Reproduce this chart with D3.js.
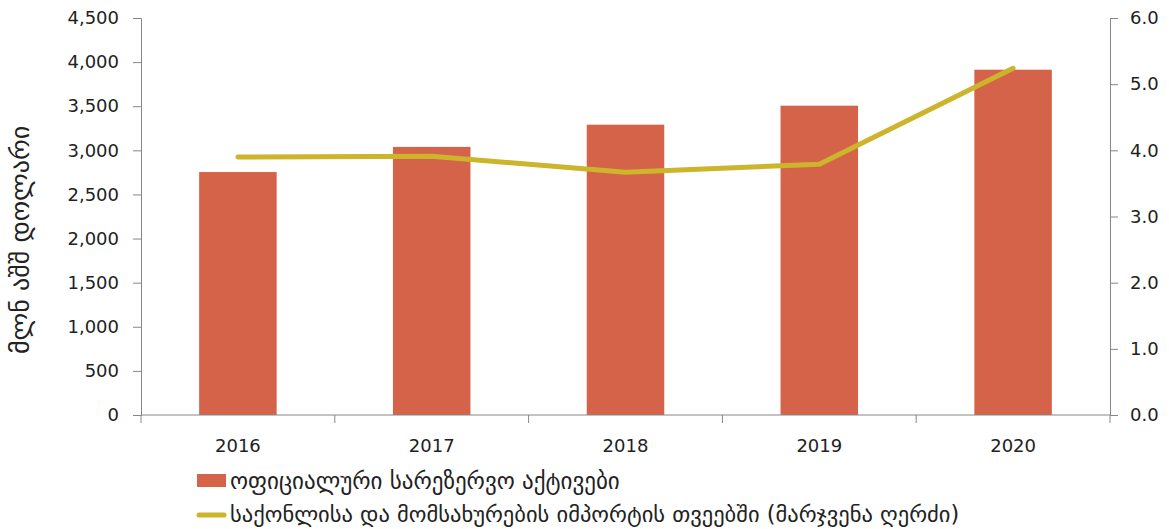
<!DOCTYPE html>
<html>
<head>
<meta charset="utf-8">
<script src="https://cdn.jsdelivr.net/npm/d3@7"></script>
<style>
  body { margin: 0; background: #fff; }
  svg { display: block; font-family: "DejaVu Sans", sans-serif; }
  .axis path, .axis line { stroke: #868686; }
  .axis text { fill: #222; font-size: 18px; font-family: "DejaVu Sans", sans-serif; }
</style>
</head>
<body>
<svg id="chart"></svg>
<script>
// data
var years = ["2016", "2017", "2018", "2019", "2020"];
var reserves = [2754, 3039, 3291, 3506, 3914];       // mln USD, left axis
var importMonths = [3.90, 3.91, 3.67, 3.79, 5.24];   // months, right axis
var leftTicks = [0, 500, 1000, 1500, 2000, 2500, 3000, 3500, 4000, 4500];
var rightTicks = [0, 1, 2, 3, 4, 5, 6];
var yTitle = "მლნ აშშ დოლარი";
var legendBar = "ოფიციალური სარეზერვო აქტივები";
var legendLine = "საქონლისა და მომსახურების იმპორტის თვეებში (მარჯვენა ღერძი)";

var width = 1169, height = 529;
var plotLeft = 141, plotRight = 1110, plotTop = 18, plotBottom = 415;
var barColor = "#D5634A", lineColor = "#CCB42B";

var svg = d3.select("#chart")
    .attr("width", width)
    .attr("height", height);

var x = d3.scaleBand()
    .domain(years)
    .range([plotLeft, plotRight])
    .paddingInner(0.6)
    .paddingOuter(0.3);

var y = d3.scaleLinear().domain([0, 4500]).range([plotBottom, plotTop]);
var y2 = d3.scaleLinear().domain([0, 6]).range([plotBottom, plotTop]);

// bars
svg.selectAll(".bar")
    .data(reserves)
    .enter().append("rect")
    .attr("class", "bar")
    .attr("x", function(d, i) { return x(years[i]); })
    .attr("width", x.bandwidth())
    .attr("y", function(d) { return y(d); })
    .attr("height", function(d) { return plotBottom - y(d); })
    .attr("fill", barColor);

// left axis
svg.append("g")
    .attr("class", "axis")
    .attr("transform", "translate(" + plotLeft + ",0)")
    .call(d3.axisLeft(y).tickValues(leftTicks).tickSize(8).tickPadding(14)
        .tickFormat(d3.format(",")));

// right axis
svg.append("g")
    .attr("class", "axis")
    .attr("transform", "translate(" + plotRight + ",0)")
    .call(d3.axisRight(y2).tickValues(rightTicks).tickSize(8).tickPadding(12)
        .tickFormat(d3.format(".1f")));

// bottom axis: labels centred, ticks on category boundaries
var xAxis = svg.append("g")
    .attr("class", "axis")
    .attr("transform", "translate(0," + plotBottom + ")")
    .call(d3.axisBottom(x).tickSize(0).tickPadding(24));
xAxis.select(".domain").attr("d", "M" + plotLeft + ",0H" + plotRight);
xAxis.selectAll(".bound")
    .data(d3.range(years.length + 1))
    .enter().append("line")
    .attr("class", "bound")
    .attr("x1", function(i) { return plotLeft + i * x.step(); })
    .attr("x2", function(i) { return plotLeft + i * x.step(); })
    .attr("y1", 0)
    .attr("y2", 8);

// line
var line = d3.line()
    .x(function(d, i) { return x(years[i]) + x.bandwidth() / 2; })
    .y(function(d) { return y2(d); });

svg.append("path")
    .datum(importMonths)
    .attr("d", line)
    .attr("fill", "none")
    .attr("stroke", lineColor)
    .attr("stroke-width", 5)
    .attr("stroke-linecap", "round")
    .attr("stroke-linejoin", "round");

// y title
svg.append("text")
    .attr("transform", "translate(29,240) rotate(-90)")
    .attr("text-anchor", "middle")
    .style("font-size", "26px")
    .attr("fill", "#222")
    .text(yTitle);

// legend
var lg = svg.append("g").attr("transform", "translate(197,0)");
lg.append("rect")
    .attr("x", 0).attr("y", 474)
    .attr("width", 29).attr("height", 13)
    .attr("fill", barColor);
lg.append("text")
    .attr("x", 33).attr("y", 489)
    .style("font-size", "23px")
    .attr("fill", "#222")
    .text(legendBar);
lg.append("line")
    .attr("x1", 2).attr("x2", 27)
    .attr("y1", 515).attr("y2", 515)
    .attr("stroke", lineColor)
    .attr("stroke-width", 5)
    .attr("stroke-linecap", "round");
lg.append("text")
    .attr("x", 33).attr("y", 522)
    .style("font-size", "22.5px")
    .attr("fill", "#222")
    .text(legendLine);
</script>
</body>
</html>
